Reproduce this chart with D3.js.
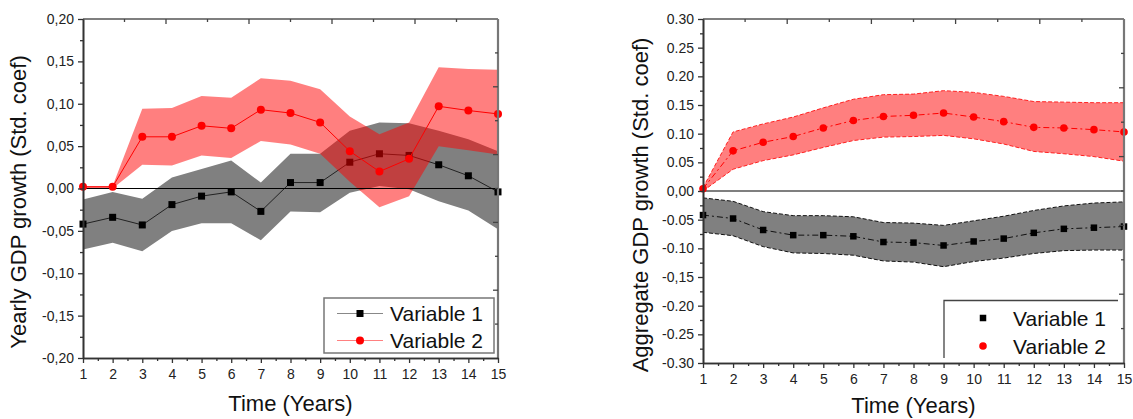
<!DOCTYPE html>
<html><head><meta charset="utf-8">
<script src="https://cdn.jsdelivr.net/npm/d3@7"></script>
<style>
body{margin:0;background:#fff;}
svg{font-family:"Liberation Sans",Arial,sans-serif;display:block;}
</style></head><body>
<svg id="chart" width="1133" height="419"></svg>
<script>
var years = [1, 2, 3, 4, 5, 6, 7, 8, 9, 10, 11, 12, 13, 14, 15];
var seriesNames = ['Variable 1', 'Variable 2'];

// left panel: yearly GDP growth
var yearlyV1 = [-0.042, -0.034, -0.043, -0.019, -0.009, -0.004, -0.027, 0.007, 0.007, 0.031, 0.041, 0.039, 0.028, 0.015, -0.004];
var yearlyV1Lo = [-0.072, -0.064, -0.074, -0.050, -0.041, -0.041, -0.061, -0.027, -0.028, -0.005, 0.003, -0.001, -0.015, -0.026, -0.048];
var yearlyV1Hi = [-0.013, -0.004, -0.012, 0.013, 0.023, 0.033, 0.007, 0.041, 0.041, 0.068, 0.078, 0.077, 0.068, 0.058, 0.044];
var yearlyV2 = [0.002, 0.002, 0.061, 0.061, 0.074, 0.071, 0.093, 0.089, 0.078, 0.044, 0.020, 0.035, 0.097, 0.092, 0.088];
var yearlyV2Lo = [0.000, 0.000, 0.028, 0.027, 0.039, 0.036, 0.056, 0.052, 0.041, 0.008, -0.022, -0.009, 0.050, 0.045, 0.040];
var yearlyV2Hi = [0.003, 0.003, 0.094, 0.095, 0.109, 0.107, 0.130, 0.127, 0.117, 0.085, 0.064, 0.078, 0.143, 0.141, 0.140];
var yearlyTicks = [-0.20, -0.15, -0.10, -0.05, 0, 0.05, 0.10, 0.15, 0.20];
var yearlyTickLabels = ['-0,20', '-0,15', '-0,10', '-0,05', '0,00', '0,05', '0,10', '0,15', '0,20'];

// right panel: aggregate GDP growth
var aggV1 = [-0.042, -0.048, -0.068, -0.077, -0.077, -0.079, -0.089, -0.090, -0.095, -0.088, -0.083, -0.073, -0.066, -0.064, -0.062];
var aggV1Lo = [-0.072, -0.078, -0.097, -0.108, -0.109, -0.112, -0.122, -0.124, -0.132, -0.123, -0.117, -0.109, -0.104, -0.103, -0.103];
var aggV1Hi = [-0.012, -0.018, -0.036, -0.043, -0.043, -0.045, -0.055, -0.056, -0.060, -0.052, -0.044, -0.034, -0.026, -0.021, -0.019];
var aggV2 = [0.004, 0.070, 0.085, 0.095, 0.110, 0.123, 0.130, 0.132, 0.136, 0.129, 0.121, 0.111, 0.110, 0.107, 0.103];
var aggV2Lo = [0.000, 0.038, 0.053, 0.063, 0.076, 0.088, 0.094, 0.095, 0.097, 0.091, 0.082, 0.069, 0.065, 0.060, 0.052];
var aggV2Hi = [0.006, 0.103, 0.117, 0.129, 0.145, 0.160, 0.168, 0.169, 0.175, 0.172, 0.165, 0.156, 0.155, 0.154, 0.154];
var aggTicks = [-0.30, -0.25, -0.20, -0.15, -0.10, -0.05, 0, 0.05, 0.10, 0.15, 0.20, 0.25, 0.30];
var aggTickLabels = ['-0.30', '-0.25', '-0.20', '-0,15', '-0.10', '-0.05', '0,00', '0.05', '0.10', '0.15', '0.20', '0.25', '0.30'];

var svg = d3.select('#chart');

function minorOf(ticks) {
  return d3.pairs(ticks).map(function(p){ return (p[0] + p[1]) / 2; });
}

function drawPanel(cfg) {
  var g = svg.append('g');
  var x = d3.scaleLinear().domain([years[0], years[years.length-1]]).range(cfg.xRange);
  var y = d3.scaleLinear().domain([cfg.ticks[0], cfg.ticks[cfg.ticks.length-1]]).range(cfg.yRange);
  var x0 = cfg.xRange[0], x1 = cfg.xRange[1], yt = cfg.yRange[1], yb = cfg.yRange[0];

  var band = function(lo, hi){
    return d3.area().x(function(d,i){ return x(years[i]); })
      .y0(function(d,i){ return y(lo[i]); })
      .y1(function(d,i){ return y(hi[i]); })(years);
  };
  var line = function(v){
    return d3.line().x(function(d,i){ return x(years[i]); })
      .y(function(d,i){ return y(v[i]); })(years);
  };

  cfg.series.forEach(function(s, k){
    g.append('path').attr('d', band(s.lo, s.hi)).attr('fill', s.fill).attr('stroke', 'none');
    if (cfg.edgeDash) {
      [s.lo, s.hi].forEach(function(e){
        g.append('path').attr('d', line(e)).attr('fill', 'none')
          .attr('stroke', s.edge).attr('stroke-width', 1).attr('stroke-dasharray', cfg.edgeDash);
      });
    }
    if (k === cfg.series.length - 1) {
      g.append('line').attr('x1', x0).attr('x2', x1).attr('y1', y(0)).attr('y2', y(0))
        .attr('stroke', '#000').attr('stroke-width', 1.2);
    }
    g.append('path').attr('d', line(s.mid)).attr('fill', 'none')
      .attr('stroke', s.line).attr('stroke-width', 1)
      .attr('stroke-dasharray', cfg.lineDash || null);
    var m = g.append('g').selectAll('.m').data(years).enter();
    if (s.shape === 'square') {
      m.append('rect').attr('x', function(d,i){ return x(d) - cfg.sq/2; })
        .attr('y', function(d,i){ return y(s.mid[i]) - cfg.sq/2; })
        .attr('width', cfg.sq).attr('height', cfg.sq).attr('fill', s.marker);
    } else {
      m.append('circle').attr('cx', function(d){ return x(d); })
        .attr('cy', function(d,i){ return y(s.mid[i]); })
        .attr('r', cfg.r).attr('fill', s.marker);
    }
  });

  // frame
  g.append('line').attr('x1', x0).attr('x2', x1).attr('y1', yt).attr('y2', yt).attr('stroke', '#555').attr('stroke-width', 1.6);
  g.append('line').attr('x1', x1).attr('x2', x1).attr('y1', yt).attr('y2', yb).attr('stroke', '#777').attr('stroke-width', 2.2);

  // decorative top/right ticks (10 divisions)
  d3.range(1, 10).forEach(function(i){
    var len = i % 2 === 0 ? 5 : 3;
    var tx = x0 + (x1 - x0) * i / 10;
    var ty = yt + (yb - yt) * i / 10;
    g.append('line').attr('x1', tx).attr('x2', tx).attr('y1', yt).attr('y2', yt + len).attr('stroke', '#444').attr('stroke-width', 1.3);
    g.append('line').attr('x1', x1).attr('x2', x1 - len).attr('y1', ty).attr('y2', ty).attr('stroke', '#444').attr('stroke-width', 1.3);
  });

  // axes
  var yAxis = d3.axisLeft(y).tickValues(cfg.ticks).tickSize(5).tickSizeOuter(0).tickPadding(4)
    .tickFormat(function(d,i){ return cfg.tickLabels[i]; });
  var ya = g.append('g').attr('transform', 'translate(' + x0 + ',0)').call(yAxis);
  var yMinor = g.append('g').attr('transform', 'translate(' + x0 + ',0)')
    .call(d3.axisLeft(y).tickValues(minorOf(cfg.ticks)).tickSize(3).tickSizeOuter(0).tickFormat(''));
  var xAxis = d3.axisBottom(x).tickValues(years).tickSize(5).tickSizeOuter(0).tickPadding(6).tickFormat(d3.format('d'));
  var xa = g.append('g').attr('transform', 'translate(0,' + yb + ')').call(xAxis);
  var xMinor = g.append('g').attr('transform', 'translate(0,' + yb + ')')
    .call(d3.axisBottom(x).tickValues(minorOf(years)).tickSize(3).tickSizeOuter(0).tickFormat(''));
  [ya, yMinor, xa, xMinor].forEach(function(a){
    a.select('.domain').attr('stroke', '#333').attr('stroke-width', 1.6);
    a.selectAll('.tick line').attr('stroke', '#333').attr('stroke-width', 1.3);
    a.selectAll('.tick text').attr('fill', '#222').style('font-size', '14px')
      .style('font-family', '"Liberation Sans", Arial, sans-serif');
  });

  // titles
  g.append('text').attr('x', (x0 + x1) / 2).attr('y', cfg.xTitleY).attr('text-anchor', 'middle')
    .attr('fill', '#111').style('font-size', '22px').text('Time (Years)');
  g.append('text').attr('transform', 'translate(' + cfg.yTitleX + ',' + cfg.yTitleMid + ') rotate(-90)')
    .attr('text-anchor', 'middle').attr('fill', '#111').style('font-size', '22px').text(cfg.yTitle);

  // legend
  var L = cfg.legend;
  if (L.box) {
    g.append('rect').attr('x', L.x).attr('y', L.y).attr('width', L.w).attr('height', L.h)
      .attr('fill', '#fff').attr('stroke', '#777').attr('stroke-width', 1.5);
  } else {
    g.append('path').attr('d', 'M' + L.x + ',' + (L.y + L.h) + 'V' + L.y + 'H' + (L.x + L.w))
      .attr('fill', 'none').attr('stroke', '#444').attr('stroke-width', 1.3);
  }
  cfg.series.forEach(function(s, k){
    var ry = L.rows[k];
    if (L.line) {
      g.append('line').attr('x1', L.mx - 23).attr('x2', L.mx + 23).attr('y1', ry).attr('y2', ry)
        .attr('stroke', s.legendLine).attr('stroke-width', 1.2);
    }
    if (s.shape === 'square') {
      g.append('rect').attr('x', L.mx - cfg.sq/2).attr('y', ry - cfg.sq/2).attr('width', cfg.sq).attr('height', cfg.sq).attr('fill', s.marker);
    } else {
      g.append('circle').attr('cx', L.mx).attr('cy', ry).attr('r', cfg.r).attr('fill', s.marker);
    }
    g.append('text').attr('x', L.tx).attr('y', ry).attr('dy', '0.36em').attr('fill', '#111')
      .style('font-size', L.font + 'px').text(seriesNames[k]);
  });
}

drawPanel({
  xRange: [83, 498], yRange: [358, 19],
  ticks: yearlyTicks, tickLabels: yearlyTickLabels,
  sq: 7, r: 4,
  xTitleY: 411, yTitleX: 26, yTitleMid: 202,
  yTitle: 'Yearly GDP growth (Std. coef)',
  series: [
    {mid: yearlyV1, lo: yearlyV1Lo, hi: yearlyV1Hi, fill: '#808080', line: '#222', marker: '#000', shape: 'square', legendLine: '#888'},
    {mid: yearlyV2, lo: yearlyV2Lo, hi: yearlyV2Hi, fill: 'rgba(255,0,0,0.5)', line: '#ff0000', marker: '#ff0000', shape: 'circle', legendLine: '#ff8080'}
  ],
  legend: {box: true, line: true, x: 324, y: 298, w: 170, h: 55, mx: 360, tx: 390, rows: [313.5, 340.5], font: 21}
});

drawPanel({
  xRange: [703, 1124], yRange: [363, 19],
  ticks: aggTicks, tickLabels: aggTickLabels,
  sq: 6.5, r: 3.8,
  lineDash: '6,3,2,3', edgeDash: '4,2',
  xTitleY: 413, yTitleX: 648, yTitleMid: 205,
  yTitle: 'Aggregate GDP growth (Std. coef)',
  series: [
    {mid: aggV1, lo: aggV1Lo, hi: aggV1Hi, fill: '#808080', edge: '#111', line: '#111', marker: '#000', shape: 'square'},
    {mid: aggV2, lo: aggV2Lo, hi: aggV2Hi, fill: 'rgba(255,0,0,0.5)', edge: '#ff2020', line: '#ff0000', marker: '#ff0000', shape: 'circle'}
  ],
  legend: {box: false, line: false, x: 944, y: 300.5, w: 174, h: 57.5, mx: 983, tx: 1013, rows: [318, 346], font: 21}
});
</script>
</body></html>
